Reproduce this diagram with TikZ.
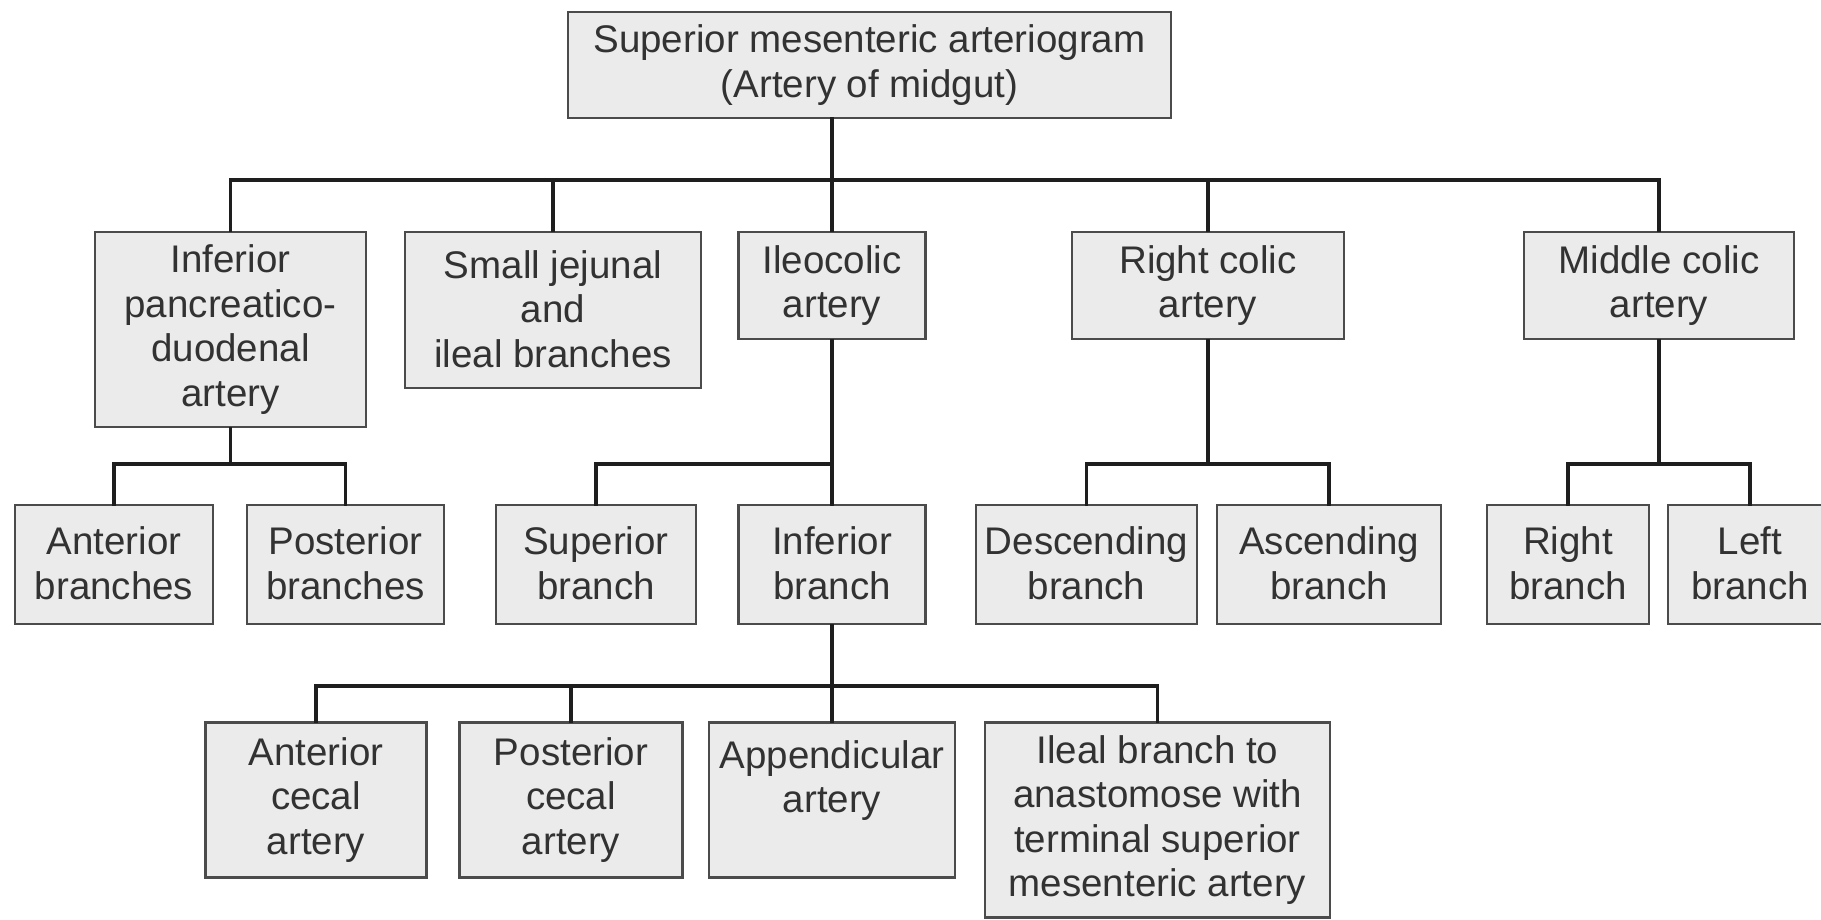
\documentclass[tikz,border=0pt]{standalone}
\usepackage{fontspec}
\setmainfont{Liberation Sans}
\definecolor{boxfill}{RGB}{235,235,235}
\definecolor{boxline}{RGB}{75,75,75}
\definecolor{inkgray}{RGB}{50,50,50}
\definecolor{linkcol}{RGB}{30,30,30}
% line strut: fixes ascent/descent of every text line
\newcommand\lnstrut{\rule[-2.5pt]{0pt}{44.5pt}}
\tikzset{
  box/.style={draw=boxline, line width=2.5pt, fill=boxfill, text=inkgray,
    align=center, inner sep=0pt, font=\fontsize{38.5}{44.5}\selectfont,
    execute at begin node=\lnstrut, execute at end node=\lnstrut},
  link/.style={draw=linkcol, line width=3.5pt, line cap=rect}
}
\begin{document}
\begin{tikzpicture}[x=1pt,y=-1pt]
\useasboundingbox (0,0) rectangle (1821,920);
\fill[white] (0,0) rectangle (1821,920);

% bus levels
\coordinate (busA) at (0,180);
\coordinate (busB) at (0,464);
\coordinate (busC) at (0,686);

% root
\node[box, minimum width=603, minimum height=106] (root) at (869.5,65)
  {Superior mesenteric arteriogram\\(Artery of midgut)};

% first level
\node[box, minimum width=271, minimum height=195] (ipd) at (230.5,329.5)
  {Inferior\\pancreatico-\\duodenal\\artery};
\node[box, minimum width=296, minimum height=156] (sj) at (553,310)
  {Small jejunal\\and\\ileal branches};
\node[box, minimum width=187, minimum height=107] (ileo) at (832,285.5)
  {Ileocolic\\artery};
\node[box, minimum width=272, minimum height=107] (rc) at (1208,285.5)
  {Right colic\\artery};
\node[box, minimum width=270, minimum height=107] (mc) at (1659,285.5)
  {Middle colic\\artery};

% second level
\node[box, minimum width=198, minimum height=119] (antb) at (114,564.5)
  {Anterior\\branches};
\node[box, minimum width=197, minimum height=119] (postb) at (345.5,564.5)
  {Posterior\\branches};
\node[box, minimum width=200, minimum height=119] (supb) at (596,564.5)
  {Superior\\branch};
\node[box, minimum width=187, minimum height=119] (infb) at (832,564.5)
  {Inferior\\branch};
\node[box, minimum width=221, minimum height=119] (desc) at (1086.5,564.5)
  {Descending\\branch};
\node[box, minimum width=224, minimum height=119] (asc) at (1329,564.5)
  {Ascending\\branch};
\node[box, minimum width=162, minimum height=119] (rb) at (1568,564.5)
  {Right\\branch};
\node[box, minimum width=164, minimum height=119] (lb) at (1750,564.5)
  {Left\\branch};

% third level
\node[box, minimum width=221, minimum height=155] (antc) at (316,800)
  {Anterior\\cecal\\artery};
\node[box, minimum width=223, minimum height=155] (postc) at (571,800)
  {Posterior\\cecal\\artery};
\node[box, minimum width=246, minimum height=155] (app) at (832,800)
  {Appendicular\\artery\\\mbox{}};
\node[box, minimum width=345, minimum height=195] (ileal) at (1157.5,820)
  {Ileal branch to\\anastomose with\\terminal superior\\mesenteric artery};

% root to first level
\draw[link] (root.south -| ileo.north) -- (ileo.north);
\draw[link] (ipd.north) -- (ipd.north |- busA) -- (mc.north |- busA) -- (mc.north);
\draw[link] (sj.north) -- (sj.north |- busA);
\draw[link] (rc.north) -- (rc.north |- busA);

% inferior pancreaticoduodenal branches
\draw[link] (ipd.south) -- (ipd.south |- busB);
\draw[link] (antb.north) -- (antb.north |- busB) -- (postb.north |- busB) -- (postb.north);

% ileocolic branches
\draw[link] (ileo.south) -- (infb.north);
\draw[link] (supb.north) -- (supb.north |- busB) -- (infb.north |- busB);

% right colic branches
\draw[link] (rc.south) -- (rc.south |- busB);
\draw[link] (desc.north) -- (desc.north |- busB) -- (asc.north |- busB) -- (asc.north);

% middle colic branches
\draw[link] (mc.south) -- (mc.south |- busB);
\draw[link] (rb.north) -- (rb.north |- busB) -- (lb.north |- busB) -- (lb.north);

% inferior branch subdivisions
\draw[link] (infb.south) -- (app.north);
\draw[link] (antc.north) -- (antc.north |- busC) -- (ileal.north |- busC) -- (ileal.north);
\draw[link] (postc.north) -- (postc.north |- busC);
\end{tikzpicture}
\end{document}
